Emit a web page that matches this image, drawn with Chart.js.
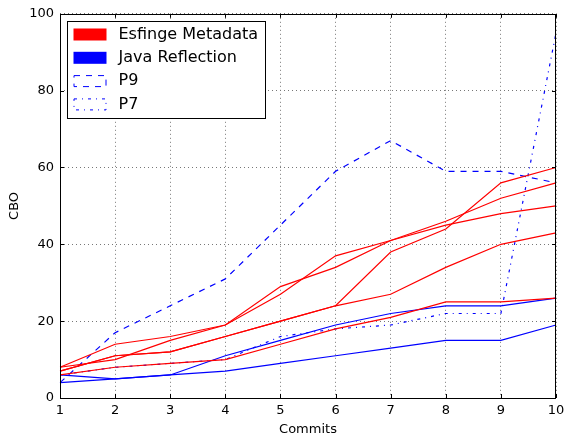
<!DOCTYPE html>
<html>
<head>
<meta charset="utf-8">
<script src="https://cdn.jsdelivr.net/npm/chart.js@4.4.0/dist/chart.umd.min.js"></script>
<style>
  body { margin: 0; background: #fff; }
  canvas { display: block; }
</style>
</head>
<body>
<canvas id="myChart" width="564" height="439"></canvas>
<script>
const commits = ['1', '2', '3', '4', '5', '6', '7', '8', '9', '10'];

// Esfinge Metadata (rojo)
const esfinge1 = [8, 14, 16, 19, 29, 34, 41, 46, 52, 56];
const esfinge2 = [8, 10, 15, 19, 27, 37, 41, 45, 48, 50];
const esfinge3 = [7, 11, 12, 16, 20, 24, 38, 44, 56, 60];
const esfinge4 = [7, 11, 12, 16, 20, 24, 27, 34, 40, 43];
const esfinge5 = [6, 8, 9, 10, 14, 18, 21, 25, 25, 26];

// Java Reflection (azul)
const reflection1 = [4, 5, 6, 11, 15, 19, 22, 24, 24, 26];
const reflection2 = [6, 5, 6, 7, 9, 11, 13, 15, 15, 19];
const p9 = [4, 17, 24, 31, 45, 59, 67, 59, 59, 56];
const p7 = [6, 8, 9, 10, 16, 18, 19, 22, 22, 95];

const yTicks = [0, 20, 40, 60, 80, 100];

Chart.defaults.font.family = "'DejaVu Sans', sans-serif";
Chart.defaults.color = '#000';

function linea(label, data, color, dash, legend) {
  return {
    label: label,
    data: data,
    borderColor: color,
    backgroundColor: color,
    borderWidth: 1.2,
    borderDash: dash,
    pointRadius: 0,
    tension: 0,
    fill: false,
    legendBox: legend
  };
}

const datasets = [
  linea('Esfinge Metadata', esfinge1, '#ff0000', [], 'fill'),
  linea('Esfinge Metadata', esfinge2, '#ff0000', [], null),
  linea('Esfinge Metadata', esfinge3, '#ff0000', [], null),
  linea('Esfinge Metadata', esfinge4, '#ff0000', [], null),
  linea('Esfinge Metadata', esfinge5, '#ff0000', [], null),
  linea('Java Reflection', reflection1, '#0000ff', [], 'fill'),
  linea('Java Reflection', reflection2, '#0000ff', [], null),
  linea('P9', p9, '#0000ff', [6, 6], 'line'),
  linea('P7', p7, '#0000ff', [3, 5, 1, 5], 'line')
];

// marco negro, ticks hacia adentro y leyenda dentro del grafico
const marcoYLeyenda = {
  id: 'marcoYLeyenda',
  afterDraw(chart) {
    const ctx = chart.ctx;
    const a = chart.chartArea;
    const xs = chart.scales.x;
    const ys = chart.scales.y;
    ctx.save();
    ctx.strokeStyle = '#000';
    ctx.lineWidth = 1;
    ctx.setLineDash([]);
    ctx.strokeRect(Math.round(a.left) + 0.5, Math.round(a.top) + 0.5,
      Math.round(a.right - a.left) - 1, Math.round(a.bottom - a.top));

    ctx.beginPath();
    for (let i = 0; i < commits.length; i++) {
      const x = Math.round(xs.getPixelForValue(i)) + 0.5;
      ctx.moveTo(x, a.bottom); ctx.lineTo(x, a.bottom - 4);
      ctx.moveTo(x, a.top); ctx.lineTo(x, a.top + 4);
    }
    for (let i = 0; i < yTicks.length; i++) {
      const y = Math.round(ys.getPixelForValue(yTicks[i])) + 0.5;
      ctx.moveTo(a.left, y); ctx.lineTo(a.left + 4, y);
      ctx.moveTo(a.right, y); ctx.lineTo(a.right - 4, y);
    }
    ctx.stroke();

    // leyenda
    const items = chart.data.datasets.filter(d => d.legendBox);
    const lx = a.left + 7.5, ly = 21.5, lw = 198, lh = 97;
    ctx.fillStyle = '#fff';
    ctx.fillRect(lx, ly, lw, lh);
    ctx.strokeStyle = '#000';
    ctx.strokeRect(lx, ly, lw, lh);
    ctx.font = "16px 'DejaVu Sans'";
    ctx.textBaseline = 'middle';
    for (let i = 0; i < items.length; i++) {
      const d = items[i];
      const cy = ly + 13 + i * 23.3;
      if (d.legendBox === 'fill') {
        ctx.fillStyle = d.borderColor;
        ctx.fillRect(lx + 6, cy - 6, 33, 12);
      } else {
        ctx.strokeStyle = d.borderColor;
        ctx.setLineDash(d.borderDash);
        ctx.strokeRect(lx + 6.5, cy - 5.5, 32, 11);
        ctx.setLineDash([]);
      }
      ctx.fillStyle = '#000';
      ctx.fillText(d.label, lx + 51, cy);
    }
    ctx.restore();
  }
};

new Chart("myChart", {
  type: "line",
  data: {
    labels: commits,
    datasets: datasets
  },
  options: {
    responsive: false,
    animation: false,
    layout: {
      padding: { top: 13, right: 8, left: 0, bottom: 0 }
    },
    scales: {
      x: {
        offset: false,
        grid: {
          offset: false,
          color: '#777',
          lineWidth: 1,
          drawTicks: false
        },
        border: { display: false, dash: [1, 3] },
        ticks: {
          padding: 5,
          font: { size: 13 },
          maxRotation: 0,
          autoSkip: false
        },
        title: {
          display: true,
          text: 'Commits',
          font: { size: 13 },
          padding: { top: 0, bottom: 2 }
        },
        afterFit: function(scale) {
          scale.height = 41;
          scale.paddingLeft = 0;
          scale.paddingRight = 0;
        }
      },
      y: {
        min: 0,
        max: 100,
        grid: {
          color: '#777',
          lineWidth: 1,
          drawTicks: false
        },
        border: { display: false, dash: [1, 3] },
        ticks: {
          stepSize: 20,
          padding: 6,
          font: { size: 13 }
        },
        title: {
          display: true,
          text: 'CBO',
          font: { size: 13 },
          padding: { top: 7, bottom: 0 }
        },
        afterFit: function(scale) { scale.width = 60; }
      }
    },
    plugins: {
      legend: { display: false },
      tooltip: { enabled: false }
    }
  },
  plugins: [marcoYLeyenda]
});
</script>
</body>
</html>
